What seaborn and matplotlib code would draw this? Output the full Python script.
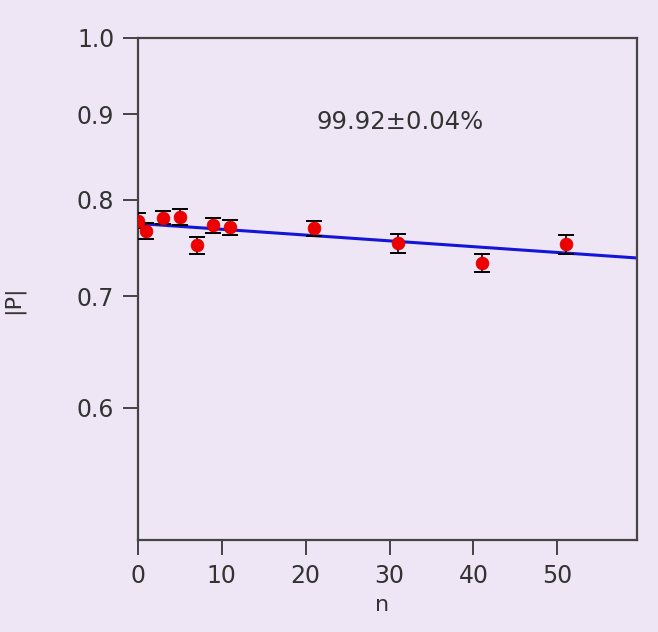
import matplotlib
matplotlib.use("Agg")
import matplotlib.pyplot as plt
from matplotlib.ticker import FixedLocator, FixedFormatter, NullLocator
import seaborn as sns
import pandas as pd

# Measured points
n_vals = [0, 1, 3, 5, 7, 9, 11, 21, 31, 41, 51]
p_vals = [0.777, 0.766, 0.780, 0.781, 0.751, 0.772, 0.770, 0.769, 0.753, 0.733, 0.752]
p_err = [0.008, 0.008, 0.007, 0.0085, 0.0092, 0.008, 0.008, 0.008, 0.0095, 0.0092, 0.0100]

# Fit line end points (exponential decay, straight on log axis)
fit_n = [0, 59.5]
fit_p = [0.774, 0.738]

y_ticks = [0.6, 0.7, 0.8, 0.9, 1.0]
y_tick_labels = ["0.6", "0.7", "0.8", "0.9", "1.0"]
x_ticks = [0, 10, 20, 30, 40, 50]
fidelity_text = "99.92\u00b10.04%"

bg = "#EEE6F5"
spine_col = "#444444"
text_col = "#333333"

sns.set_theme(style="ticks")
plt.rcParams["font.family"] = ["DejaVu Sans"]

points = pd.DataFrame({"n": n_vals, "P": p_vals})
fit = pd.DataFrame({"n": fit_n, "P": fit_p})

fig = plt.figure(figsize=(6.58, 6.32), dpi=100, facecolor=bg)
ax = fig.add_axes([0.2097, 0.1456, 0.7584, 0.7944])
ax.set_facecolor(bg)

sns.lineplot(data=fit, x="n", y="P", ax=ax, color="#1515d8", linewidth=2.2, zorder=2)
ax.errorbar(n_vals, p_vals, yerr=p_err, fmt="none", ecolor="black",
            elinewidth=1.2, capsize=5.5, capthick=1.4, zorder=3)
sns.scatterplot(data=points, x="n", y="P", ax=ax, color="#ee0000", marker="o",
                s=85, edgecolor="#dd0000", linewidth=0.5, zorder=4)

ax.set_yscale("log")
ax.set_ylim(0.5, 1.0)
ax.set_xlim(0, 59.5)
ax.yaxis.set_major_locator(FixedLocator(y_ticks))
ax.yaxis.set_major_formatter(FixedFormatter(y_tick_labels))
ax.yaxis.set_minor_locator(NullLocator())
ax.set_xticks(x_ticks)

for s in ax.spines.values():
    s.set_color(spine_col)
    s.set_linewidth(1.6)
ax.tick_params(axis="both", which="major", direction="out", length=11,
               width=1.4, color=spine_col, labelsize=17, labelcolor=text_col, pad=6)

ax.set_xlabel("n", fontsize=16, color=text_col)
ax.set_ylabel("|P|", fontsize=16, color=text_col)
ax.xaxis.set_label_coords(0.49, -0.11)
ax.yaxis.set_label_coords(-0.228, 0.478)

ax.text(31.3, 0.891, fidelity_text, fontsize=17.5, color=text_col,
        ha="center", va="center")

fig.savefig("out.png", dpi=100, facecolor=bg)
